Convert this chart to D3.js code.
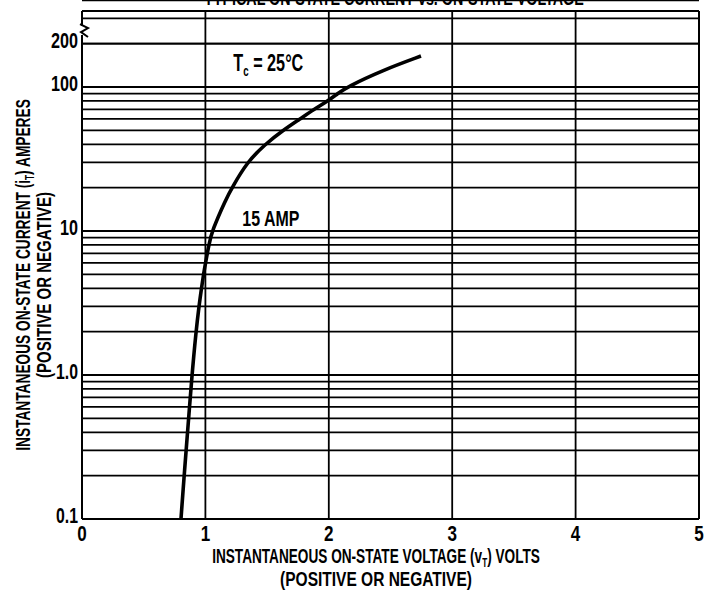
<!DOCTYPE html>
<html>
<head>
<meta charset="utf-8">
<script src="https://cdn.jsdelivr.net/npm/d3@7"></script>
<style>
  html, body { margin: 0; padding: 0; background: #fff; }
  svg { display: block; }
  text { font-family: "Liberation Sans", Arial, sans-serif; fill: #000; }
</style>
</head>
<body>
<svg id="chart" width="711" height="591"></svg>
<script>
// ---- data ----
const voltage = [0.802, 0.828, 0.844, 0.891, 0.924, 0.948, 0.968, 0.985, 1.001, 1.028, 1.053, 1.167, 1.216, 1.337, 1.483, 1.629, 1.767, 1.880, 1.994, 2.071, 2.147, 2.439, 2.747];
const current = [0.1, 0.2, 0.3, 1.0, 2, 3, 4, 5, 6, 8, 10, 16.7, 20, 30, 40, 50, 60, 70, 80, 90, 100, 131, 164];

const xTicks = [0, 1, 2, 3, 4, 5];
const xTickLabels = ["0", "1", "2", "3", "4", "5"];
const yTicks = [0.1, 1, 10, 100, 200];
const yTickLabels = ["0.1", "1.0", "10", "100", "200"];
const decades = [0.1, 1, 10, 100];
const multipliers = [1, 2, 3, 4, 5, 6, 7, 8, 9];
const yBreakTop = 337;   // axis is broken above 200

const chartTitle = "TYPICAL ON-STATE CURRENT vs. ON-STATE VOLTAGE";
const xTitle = ["INSTANTANEOUS  ON-STATE  VOLTAGE  (v", "T", ")  VOLTS"];
const yTitle = ["INSTANTANEOUS  ON-STATE  CURRENT  (i", "T", ")  AMPERES"];
const subTitle = "(POSITIVE  OR  NEGATIVE)";

// ---- scales ----
const svg = d3.select("#chart");
const x = d3.scaleLinear().domain([0, 5]).range([82, 699]);
const y = d3.scaleLog().domain([0.1, 100]).range([519, 87]);
const x0 = x(0), x1 = x(5), yB = y(0.1), yT = y(yBreakTop);

// helper: text squeezed horizontally to a target width (condensed look)
function fitText(parent, tx, ty, rot, parts, size, weight, targetW, anchor) {
  const outer = parent.append("g").attr("transform", `translate(${tx},${ty}) rotate(${rot})`);
  const inner = outer.append("g");
  const t = inner.append("text").attr("x", 0).attr("y", 0)
    .attr("text-anchor", anchor || "middle").attr("font-size", size).attr("font-weight", weight);
  parts.forEach(([s, sub], k) => {
    const ts = t.append("tspan").text(s);
    if (sub) ts.attr("font-size", size * 0.6).attr("dy", size * 0.2);
    else if (k > 0 && parts[k - 1][1]) ts.attr("dy", -size * 0.2);
  });
  const w = t.node().getComputedTextLength();
  inner.attr("transform", `scale(${targetW / w},1)`);
  return t;
}

// ---- horizontal grid (log) ----
const gridVals = [];
decades.forEach(d => multipliers.forEach(m => gridVals.push(+(d * m).toPrecision(3))));
gridVals.push(100, 200);
svg.append("g").selectAll("line").data(gridVals).join("line")
  .attr("x1", x0).attr("x2", x1)
  .attr("y1", d => y(d)).attr("y2", d => y(d))
  .attr("stroke", "#000").attr("stroke-width", 1.8);

// ---- vertical grid ----
svg.append("g").selectAll("line").data(xTicks.slice(1, -1)).join("line")
  .attr("x1", d => x(d)).attr("x2", d => x(d))
  .attr("y1", yT).attr("y2", yB)
  .attr("stroke", "#000").attr("stroke-width", 1.8);

// ---- frame with break mark ----
const frame = svg.append("g").attr("stroke", "#000").attr("stroke-width", 2).attr("fill", "none");
frame.append("line").attr("x1", x0).attr("x2", x1).attr("y1", yT).attr("y2", yT);
frame.append("line").attr("x1", x0).attr("x2", x1).attr("y1", yB).attr("y2", yB);
frame.append("line").attr("x1", x1).attr("x2", x1).attr("y1", yT).attr("y2", yB);
frame.append("line").attr("x1", x0).attr("x2", x0).attr("y1", yT).attr("y2", yT + 15);
frame.append("line").attr("x1", x0).attr("x2", x0).attr("y1", yT + 24).attr("y2", yB);
frame.append("path")
  .attr("d", `M${x0 - 2},${yT + 13} L${x0 + 6},${yT + 17} L${x0 - 1},${yT + 21} L${x0 + 6},${yT + 26}`);

// ---- curve ----
const pts = voltage.map((v, k) => [x(v), y(current[k])]);
svg.append("path")
  .attr("d", d3.line().curve(d3.curveBasis)(pts))
  .attr("fill", "none").attr("stroke", "#000").attr("stroke-width", 3.6);

// ---- tick labels ----
xTicks.forEach((d, k) => {
  const s = xTickLabels[k];
  fitText(svg, x(d), yB + 22, 0, [[s, 0]], 22, "bold", 9.5 * s.length, "middle");
});
yTicks.forEach((d, k) => {
  const s = yTickLabels[k];
  const w = s.replace(".", "").length * 9 + (s.includes(".") ? 4 : 0);
  const g = svg.append("g").attr("transform", `translate(${x0 - 4},${y(d) + 4})`);
  fitText(g, 0, 0, 0, [[s, 0]], 22, "bold", w, "end");
});

// ---- axis titles ----
fitText(svg, 376, 563, 0, [[xTitle[0], 0], [xTitle[1], 1], [xTitle[2], 0]], 21, "bold", 328);
fitText(svg, 376, 586, 0, [[subTitle, 0]], 21, "bold", 192);
fitText(svg, 30, 275, -90, [[yTitle[0], 0], [yTitle[1], 1], [yTitle[2], 0]], 21, "bold", 352);
fitText(svg, 51, 285, -90, [[subTitle, 0]], 21, "bold", 186);

// ---- title (cropped at top) ----
fitText(svg, 394, 5, 0, [[chartTitle, 0]], 20, "bold", 380);

// ---- annotations ----
fitText(svg, x(1.51), y(129), 0, [["T", 0], ["c", 1], [" = 25°C", 0]], 23, "bold", 70);
fitText(svg, x(1.53), y(10.9), 0, [["15  AMP", 0]], 22, "bold", 57);
</script>
</body>
</html>
